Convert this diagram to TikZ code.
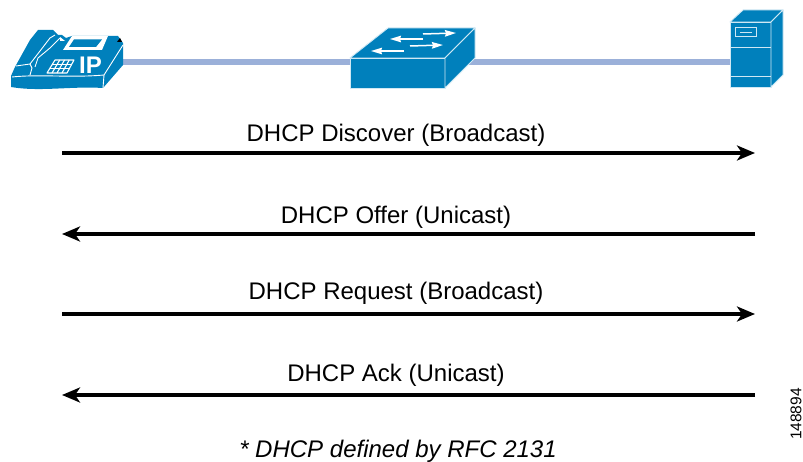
\documentclass[tikz,border=0pt]{standalone}
\usepackage{fontspec}
\setmainfont{Liberation Sans}
\usetikzlibrary{arrows.meta,calc}
\definecolor{cisco}{HTML}{0080BC}
\definecolor{linkblue}{HTML}{9BB0D9}
\definecolor{trim}{HTML}{CFE8F4}
\tikzset{
  lbl/.style={font=\fontsize{24}{28}\selectfont,text=black,inner sep=0pt,anchor=center},
  msg/.style={line width=3.8pt,-{Stealth[length=18pt,width=15pt,inset=5pt]},black},
  link/.style={line width=6pt,linkblue},
  anchorbox/.style={inner sep=0pt,minimum width=#1,minimum height=20pt},
  face/.style={fill=cisco,draw=trim,line width=.9pt,line join=round},
  wline/.style={draw=white,line width=.9pt},
  warrow/.style={draw=white,line width=1.5pt,-{Stealth[length=11pt,width=6.5pt,inset=1pt]}}
}
\begin{document}
\begin{tikzpicture}[x=1pt,y=-1pt]
\useasboundingbox (0,0) rectangle (803,462);
\fill[white] (0,0) rectangle (803,462);
% anchors for the three devices
\node[anchorbox=100pt] (phone) at (73,62) {};
\node[anchorbox=95pt] (switch) at (398,62) {};
\node[anchorbox=40pt] (server) at (750,62) {};
\draw[link] (phone.east) -- (switch.west);
\draw[link] (switch.east) -- (server.west);
% phone
\fill[cisco] (11,76) -- (15,67) -- (30,40) -- (38,30) -- (53,30) -- (58,35) -- (62,35) -- (66,38) -- (72,36) -- (118,36) -- (123,43) -- (123,65) -- (103,88)
   .. controls (70,86) and (40,92) .. (11,87) -- cycle;
\fill[white] (72,36) -- (108,36) -- (102,50) -- (63,50) -- cycle;
\fill[cisco] (74,39.5) -- (102,39.5) -- (96,47) -- (69,47) -- cycle;
\fill[cisco] (55,60) -- (74,60) -- (67,73) -- (47,73) -- cycle;
\draw[white,line width=1.1pt,line join=round] (55,60) -- (74,60) -- (67,73) -- (47,73) -- cycle;
\foreach \t in {0.33,0.67}{
  \draw[white,line width=1.1pt] ($(55,60)!\t!(47,73)$) -- ($(74,60)!\t!(67,73)$);
}
\foreach \t in {0.25,0.5,0.75}{
  \draw[white,line width=1.1pt] ($(55,60)!\t!(74,60)$) -- ($(47,73)!\t!(67,73)$);
}
\draw[wline] (12,77) .. controls (40,74) and (70,78) .. (104,75) -- (123,45);
\draw[wline] (104,75) -- (103,88);
\draw[wline] (16,66) -- (30,64) -- (32,68) -- (30,75);
\draw[wline] (30,64) -- (50,38) -- (55,35);
\draw[wline] (35,67) -- (38,58) -- (50,48) -- (60,38);
\fill[white] (60,37) -- (65,41) -- (60,41) -- cycle;
\fill[black] (120,38) -- (122,42) -- (117,42) -- cycle;
\node[font=\bfseries\fontsize{24}{26}\selectfont,text=white,inner sep=0pt] (iplabel) at (90.5,65) {IP};
% switch
\path[face] (350,58) -- (445,58) -- (445,88) -- (350,88) -- cycle;
\path[face] (350,58) -- (388,28) -- (475,28) -- (445,58) -- cycle;
\path[face] (445,58) -- (475,28) -- (475,58) -- (445,88) -- cycle;
\draw[warrow] (423,34) -- (456,33);
\draw[warrow] (423,39) -- (390,39);
\draw[warrow] (410,46) -- (443,45);
\draw[warrow] (404,51) -- (371,51);
% server
\path[face] (730,22) -- (771,22) -- (771,87) -- (730,87) -- cycle;
\path[face] (730,22) -- (743,10) -- (783,10) -- (771,22) -- cycle;
\path[face] (771,22) -- (783,10) -- (783,75) -- (771,87) -- cycle;
\draw[draw=trim,line width=1pt] (730,48) -- (771,48) (730,77) -- (771,77);
\draw[draw=trim,line width=1pt] (735,28) rectangle (756,37);
\draw[draw=trim,line width=1pt] (740,32.5) -- (752,32.5);
% message ladder
\coordinate (a1) at (62,153); \coordinate (b1) at (755,153);
\coordinate (a2) at (62,234); \coordinate (b2) at (755,234);
\coordinate (a3) at (62,314); \coordinate (b3) at (755,314);
\coordinate (a4) at (62,395); \coordinate (b4) at (755,395);
\draw[msg] (a1) -- (b1);
\draw[msg] (b2) -- (a2);
\draw[msg] (a3) -- (b3);
\draw[msg] (b4) -- (a4);
\node[lbl] (t1) at (396,135) {DHCP Discover (Broadcast)};
\node[lbl] (t2) at (396,217.5) {DHCP Offer (Unicast)};
\node[lbl] (t3) at (396,293.5) {DHCP Request (Broadcast)};
\node[lbl] (t4) at (396,375.5) {DHCP Ack (Unicast)};
\node[lbl,font=\itshape\fontsize{24}{28}\selectfont] (note) at (398,451) {* DHCP defined by RFC 2131};
\node[font=\fontsize{15.5}{18}\selectfont,rotate=90,inner sep=0pt] (figid) at (796,414) {148894};
\end{tikzpicture}
\end{document}
